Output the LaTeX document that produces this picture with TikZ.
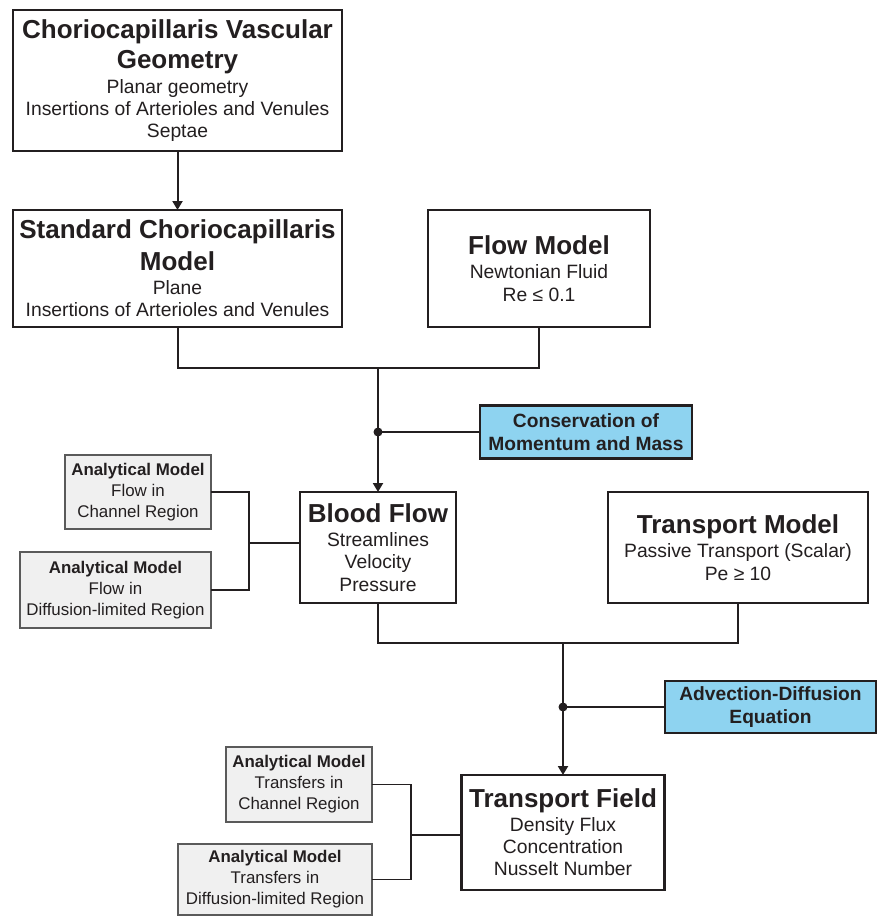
\documentclass[tikz,border=0pt]{standalone}
\usepackage{fontspec}
\setmainfont{Liberation Sans}
\usetikzlibrary{arrows.meta,positioning}
\definecolor{inkc}{HTML}{231F20}
\definecolor{eqblue}{HTML}{8ED3F0}
\definecolor{anafill}{HTML}{F0F0F0}
\definecolor{anaedge}{HTML}{5A5A5A}
\newcommand{\headfont}{\fontsize{26}{28}\selectfont\bfseries}
\newcommand{\bodyfont}{\fontsize{19.3}{22.3}\selectfont}
\newcommand{\eqfont}{\fontsize{19.2}{23}\selectfont\bfseries}
\newcommand{\anafont}{\fontsize{16.9}{21}\selectfont}
\tikzset{
    %Define standard arrow tip
    >={Triangle[width=10pt,length=9pt]},
    %Define style for main boxes
    mainnode/.style={
             rectangle,
             draw=inkc, line width=2.5pt,
             fill=white, text=inkc,
             inner sep=0pt, outer sep=0pt,
             align=center,
             font=\bodyfont},
    %Define style for equation boxes
    eqnode/.style={
             rectangle,
             draw=inkc, line width=2.3pt,
             fill=eqblue, text=inkc,
             inner sep=0pt, outer sep=0pt,
             align=center,
             font=\eqfont},
    %Define style for analytical model boxes
    ananode/.style={
             rectangle,
             draw=anaedge, line width=1.4pt,
             fill=anafill, text=inkc,
             inner sep=0pt, outer sep=0pt,
             align=center,
             font=\anafont},
    % Define connector styles
    flowline/.style={
            draw=inkc,
            line width=2pt},
    flowarrow/.style={
            ->,
            draw=inkc, fill=inkc,
            line width=2pt},
    analine/.style={
            draw=inkc,
            line width=1.3pt}
}
\begin{document}
\begin{tikzpicture}[x=1pt, y=-1pt]
 \useasboundingbox (0,0) rectangle (879,916);
 % geometry and models
 \node[mainnode, minimum width=329pt, minimum height=141pt] (geom) at (177.5,80.5)
   {\headfont Choriocapillaris Vascular\\[6pt]\headfont Geometry\\[2pt]Planar geometry\\Insertions of Arterioles and Venules\\Septae};
 \node[mainnode, minimum width=329pt, minimum height=117pt] (stdmodel) at (177.5,268.5)
   {\headfont Standard Choriocapillaris\\[6pt]\headfont Model\\[2pt]Plane\\Insertions of Arterioles and Venules};
 \node[mainnode, minimum width=222pt, minimum height=117pt] (flowmodel) at (539,268.5)
   {\headfont Flow Model\\[2pt]Newtonian Fluid\\Re ≤ 0.1};
 \node[eqnode, minimum width=212pt, minimum height=53pt] (cons) at (586,432)
   {Conservation of\\Momentum and Mass};
 % flow results
 \node[mainnode, minimum width=156pt, minimum height=111pt] (bloodflow) at (378,547.5)
   {\headfont Blood Flow\\[2pt]Streamlines\\Velocity\\Pressure};
 \node[mainnode, minimum width=260pt, minimum height=111pt] (transmodel) at (738,547.5)
   {\headfont Transport Model\\[2pt]Passive Transport (Scalar)\\Pe ≥ 10};
 \node[eqnode, minimum width=211pt, minimum height=52pt] (advdiff) at (770.5,707)
   {Advection-Diffusion\\Equation};
 \node[mainnode, minimum width=203pt, minimum height=115pt] (transfield) at (563,832.5)
   {\headfont Transport Field\\[1pt]Density Flux\\Concentration\\Nusselt Number};
 % analytical models
 \node[ananode, minimum width=146pt, minimum height=74pt] (anaflowch) at (138,492)
   {\textbf{Analytical Model}\\Flow in\\Channel Region};
 \node[ananode, minimum width=191pt, minimum height=76pt] (anaflowdl) at (115.5,590)
   {\textbf{Analytical Model}\\Flow in\\Diffusion-limited Region};
 \node[ananode, minimum width=146pt, minimum height=75pt] (anatrch) at (299,784.5)
   {\textbf{Analytical Model}\\Transfers in\\Channel Region};
 \node[ananode, minimum width=194pt, minimum height=71pt] (anatrdl) at (275,879.5)
   {\textbf{Analytical Model}\\Transfers in\\Diffusion-limited Region};
 % junctions
 \coordinate (join1) at (378,368);
 \coordinate (dot1) at (378,432);
 \coordinate (join2) at (563,643);
 \coordinate (dot2) at (563,707);
 \coordinate (fork1) at (249,543);
 \coordinate (fork2) at (411,835);
 % connectors
 \draw[flowarrow] (geom) -- (stdmodel);
 \draw[flowline] (stdmodel.south) |- (join1) -| (flowmodel.south);
 \draw[flowarrow] (join1) -- (bloodflow.north);
 \draw[flowline] (dot1) -- (cons.west);
 \fill[inkc] (dot1) circle (4.5pt);
 \draw[flowline] (bloodflow.south) |- (join2) -| (transmodel.south);
 \draw[flowarrow] (join2) -- (transfield.north);
 \draw[flowline] (dot2) -- (advdiff.west);
 \fill[inkc] (dot2) circle (4.5pt);
 \draw[analine] (anaflowch.east) -| (fork1) |- (anaflowdl.east);
 \draw[analine] (fork1) -- (bloodflow.west |- fork1);
 \draw[analine] (anatrch.east) -| (fork2) |- (anatrdl.east);
 \draw[analine] (fork2) -- (transfield.west |- fork2);
\end{tikzpicture}
\end{document}
